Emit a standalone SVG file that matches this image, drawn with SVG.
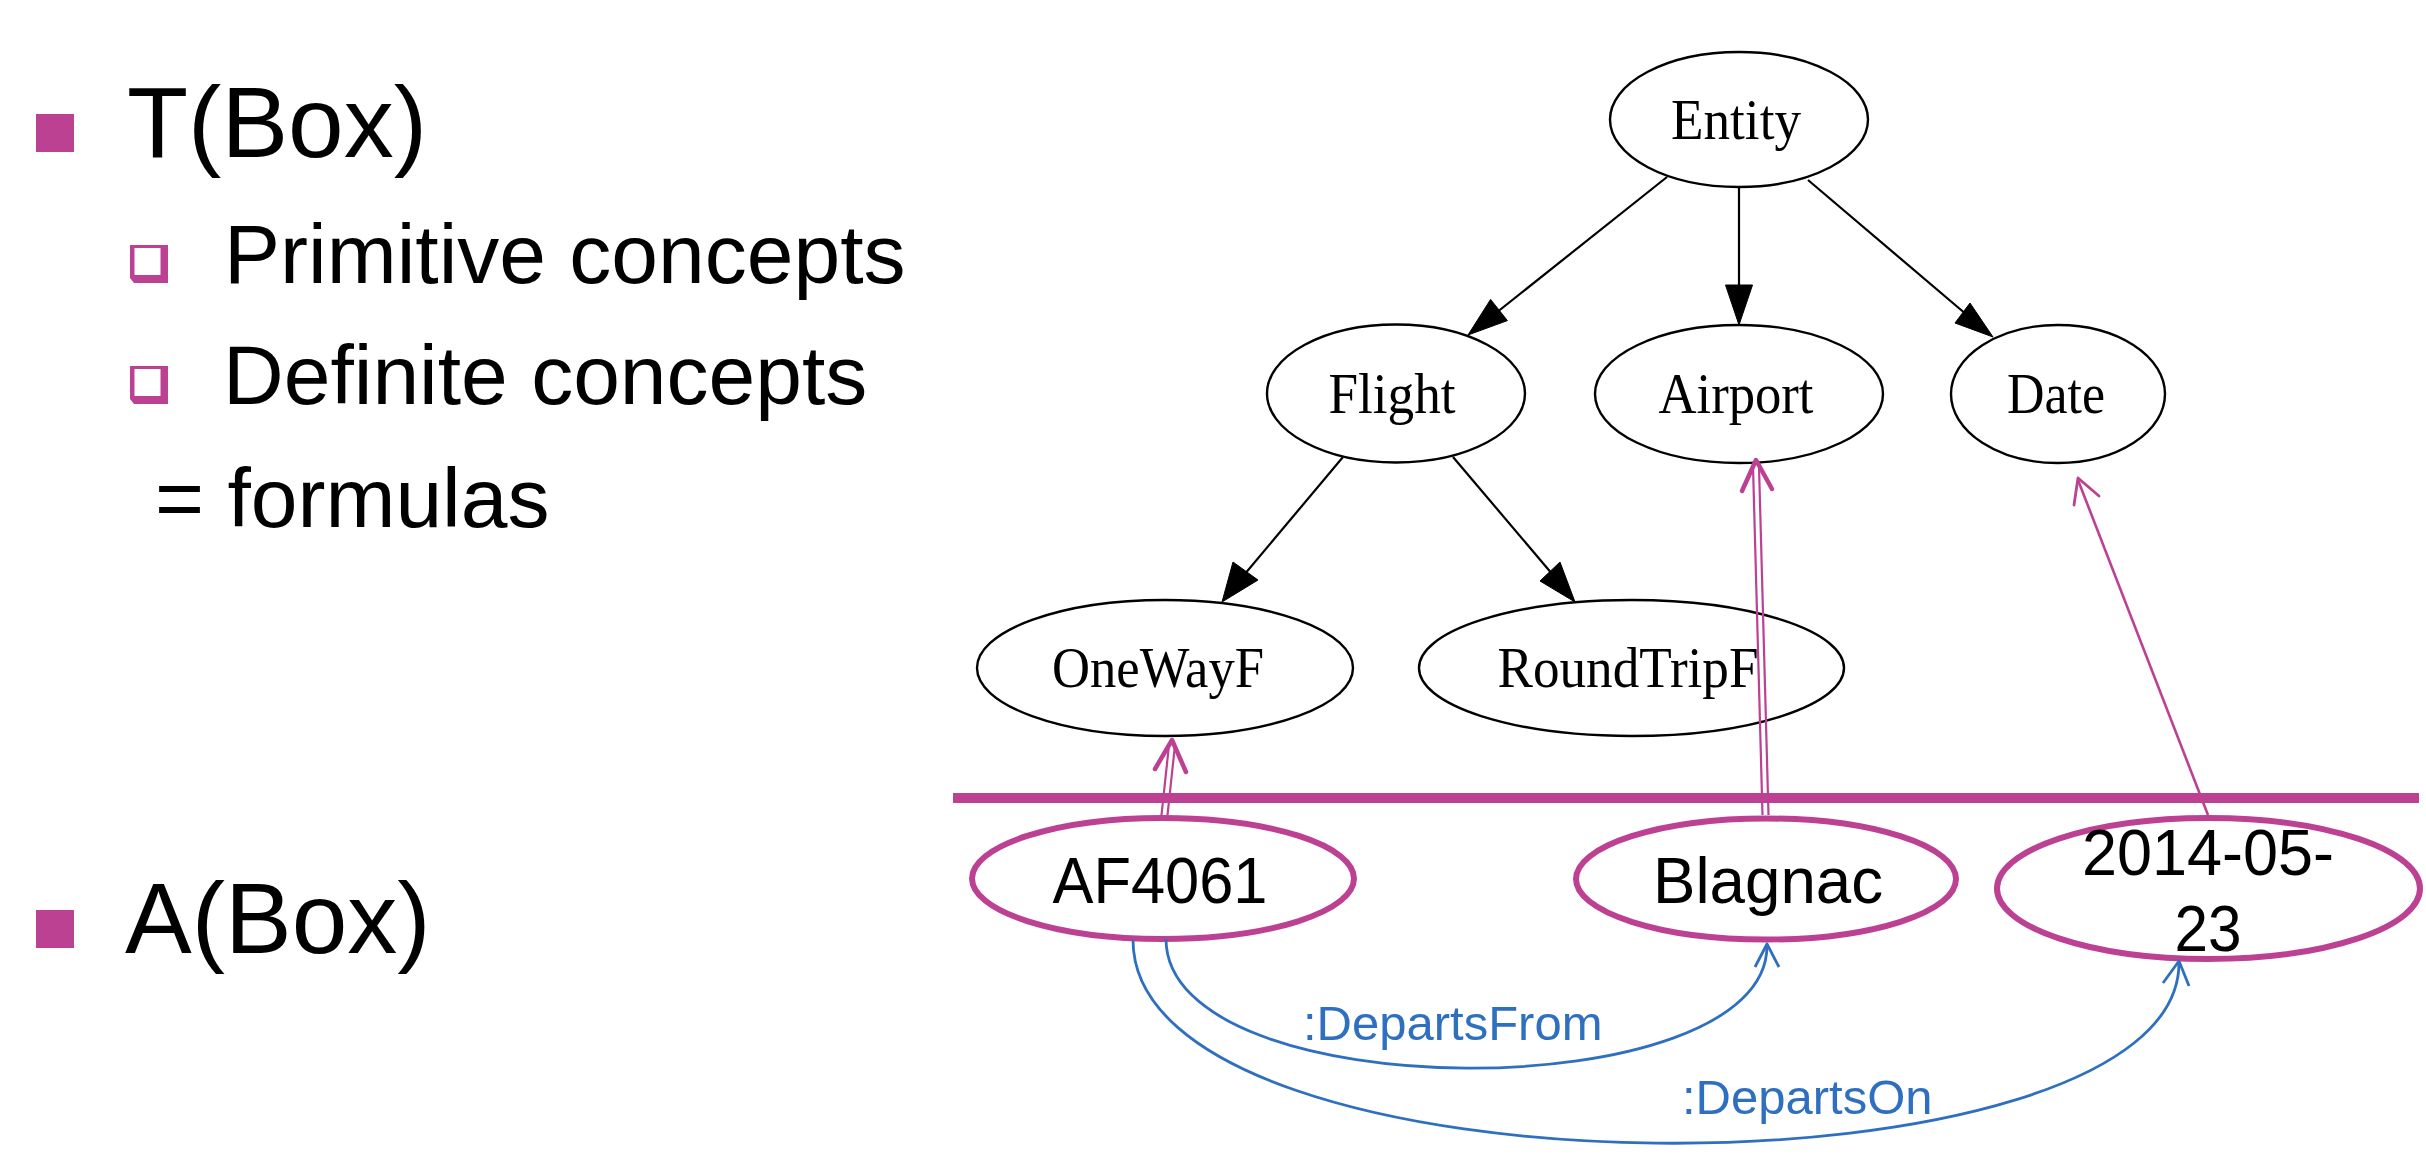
<svg xmlns="http://www.w3.org/2000/svg" width="2426" height="1162" viewBox="0 0 2426 1162">
<defs>
<style>
.bg{fill:#ffffff}
.mg{fill:#bc4193}
.sans{font-family:"Liberation Sans",Arial,sans-serif;fill:#000}
.big{font-size:100px}
.sub{font-size:84px}
.gv{fill:#fff;stroke:#000;stroke-width:2.4}
.gvt{font-family:"Liberation Serif","Times New Roman",serif;font-size:57px;fill:#000;text-anchor:middle}
.inst{fill:#fff;stroke:#bc4193;stroke-width:6}
.instt{font-family:"Liberation Sans",Arial,sans-serif;font-size:65px;fill:#000;text-anchor:middle}
.edge{stroke:#000;stroke-width:2.2;fill:none}
.head{fill:#000;stroke:#000;stroke-width:1}
.mline{stroke:#bc4193;stroke-width:2.2;fill:none}
.mhead{stroke:#bc4193;stroke-width:4.5;fill:none;stroke-linecap:round;stroke-linejoin:round}
.bline{stroke:#2f6fbf;stroke-width:2.8;fill:none}
.bhead{stroke:#2f6fbf;stroke-width:2.8;fill:none;stroke-linejoin:round}
.blab{font-family:"Liberation Sans",Arial,sans-serif;font-size:49px;fill:#2f6fbf}
</style>
</defs>
<rect class="bg" x="0" y="0" width="2426" height="1162"/>

<g id="tbox-text">
<rect class="mg" x="36" y="114" width="38" height="38"/>
<text class="sans big" x="127" y="157">T(Box)</text>
<path class="mg" d="M130,245 h38 v38 h-34 l-4,-5 z"/>
<rect fill="#fff" x="134.5" y="248" width="26" height="27"/>
<text class="sans sub" x="224" y="283">Primitive concepts</text>
<path class="mg" d="M130,366 h38 v38 h-34 l-4,-5 z"/>
<rect fill="#fff" x="134.5" y="369" width="26" height="27"/>
<text class="sans sub" x="223" y="404">Definite concepts</text>
<text class="sans sub" x="155" y="527">= formulas</text>
</g>

<g id="abox-text">
<rect class="mg" x="36" y="910" width="38" height="38"/>
<text class="sans big" x="125" y="953">A(Box)</text>
</g>

<g id="node-entity">
<ellipse class="gv" cx="1739" cy="119.5" rx="129" ry="67.5"/>
<text class="gvt" x="1736" y="139" textLength="130" lengthAdjust="spacingAndGlyphs">Entity</text>
</g>
<g id="node-flight">
<ellipse class="gv" cx="1396" cy="393.5" rx="129" ry="69"/>
<text class="gvt" x="1392" y="413" textLength="127" lengthAdjust="spacingAndGlyphs">Flight</text>
</g>
<g id="node-airport">
<ellipse class="gv" cx="1739" cy="394" rx="144" ry="69"/>
<text class="gvt" x="1736" y="413" textLength="155" lengthAdjust="spacingAndGlyphs">Airport</text>
</g>
<g id="node-date">
<ellipse class="gv" cx="2058" cy="394" rx="107" ry="69"/>
<text class="gvt" x="2056" y="413" textLength="98" lengthAdjust="spacingAndGlyphs">Date</text>
</g>
<g id="node-onewayf">
<ellipse class="gv" cx="1165" cy="668" rx="188" ry="68"/>
<text class="gvt" x="1158" y="687" textLength="212" lengthAdjust="spacingAndGlyphs">OneWayF</text>
</g>
<g id="node-roundtripf">
<ellipse class="gv" cx="1631.5" cy="668" rx="212.5" ry="68"/>
<text class="gvt" x="1628" y="687" textLength="261" lengthAdjust="spacingAndGlyphs">RoundTripF</text>
</g>

<g id="node-af4061">
<ellipse class="inst" cx="1163" cy="878.5" rx="191" ry="60.5"/>
<text class="instt" x="1160" y="903" textLength="215" lengthAdjust="spacingAndGlyphs">AF4061</text>
</g>
<g id="node-blagnac">
<ellipse class="inst" cx="1766" cy="879" rx="190" ry="60.5"/>
<text class="instt" x="1768" y="903" textLength="230" lengthAdjust="spacingAndGlyphs">Blagnac</text>
</g>
<g id="node-2014-05-23">
<ellipse class="inst" cx="2208.5" cy="888.5" rx="211.5" ry="70.5"/>
<text class="instt" x="2208" y="875" textLength="252" lengthAdjust="spacingAndGlyphs">2014-05-</text>
<text class="instt" x="2208" y="951" textLength="67" lengthAdjust="spacingAndGlyphs">23</text>
</g>

<g id="connectors">
<!-- TBox hierarchy -->
<line class="edge" x1="1667" y1="177" x2="1496" y2="313"/>
<polygon class="head" points="1468,335 1490.6,299.4 1507.4,320.6"/>
<line class="edge" x1="1739" y1="187" x2="1739" y2="288"/>
<polygon class="head" points="1739,325 1725.5,285 1752.5,285"/>
<line class="edge" x1="1808" y1="180" x2="1967" y2="315"/>
<polygon class="head" points="1993,337 1955,323 1970,303"/>
<line class="edge" x1="1343" y1="457" x2="1244" y2="575"/>
<polygon class="head" points="1222,602 1233,562 1258,580"/>
<line class="edge" x1="1453" y1="457" x2="1553" y2="575"/>
<polygon class="head" points="1575,602 1540,581 1560,562"/>

<!-- instance-of arrows -->
<line class="mline" x1="1161.5" y1="815" x2="1169" y2="745"/>
<line class="mline" x1="1167.5" y1="815" x2="1175" y2="745"/>
<polyline class="mhead" points="1155,769 1172,740 1186,772"/>
<line class="mline" x1="1762.5" y1="815" x2="1753" y2="466"/>
<line class="mline" x1="1768.5" y1="815" x2="1759" y2="466"/>
<polyline class="mhead" points="1742,491 1756,460 1772,489"/>
<line class="mline" x1="2208" y1="815" x2="2078" y2="480" style="stroke-width:2.6"/>
<polyline class="mhead" points="2074,505 2078,478 2099,496" style="stroke-width:2.8"/>

<!-- separator -->
<rect class="mg" x="953" y="793" width="1466" height="10"/>

<!-- ABox relations -->
<path class="bline" d="M1166,939 C1166,1110 1767,1110 1767,946"/>
<polyline class="bhead" points="1755,967 1767,944 1779,967"/>
<path class="bline" d="M1133,940 C1133,1207 2179,1207 2179,963"/>
<polyline class="bhead" points="2163,983 2179,961 2189,986"/>
<text class="blab" x="1303" y="1040">:DepartsFrom</text>
<text class="blab" x="1682" y="1114">:DepartsOn</text>
</g>
</svg>
